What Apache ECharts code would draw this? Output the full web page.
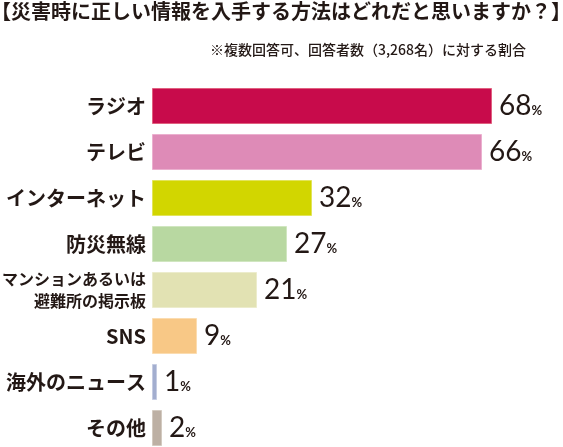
<!DOCTYPE html>
<html><head><meta charset="utf-8">
<script src="https://cdn.jsdelivr.net/npm/echarts@6/dist/echarts.min.js"></script>
<style>html,body{margin:0;padding:0;background:#fff}#c{width:563px;height:447px}</style>
</head><body><div id="c"></div>
<script>
const titleText = '【災害時に正しい情報を入手する方法はどれだと思いますか？】';
const noteText = '※複数回答可、回答者数（3,268名）に対する割合';
const categories = ['ラジオ','テレビ','インターネット','防災無線','マンションあるいは\n避難所の掲示板','SNS','海外のニュース','その他'];
const values = [68,66,32,27,21,9,1,2];
const colors = ['#C80B4B','#DE8BB7','#D2D600','#B8D8A1','#E2E2B3','#F8C886','#A3AECF','#BDB0A4'];
const borders = ['#E0607F','#EBB0CF','#E2E45A','#D0E6C0','#ECECCC','#FBDCB0','#C5CCE2','#D3CAC0'];
const FONT = '"Noto Sans CJK JP", "Noto Sans", sans-serif';
const chart = echarts.init(document.getElementById('c'), null, {renderer:'canvas'});
chart.setOption({
  animation:false,
  backgroundColor:'#fff',
  title:[
    {text:titleText,left:-9,top:1,padding:0,textStyle:{fontFamily:FONT,fontSize:20,fontWeight:'bold',color:'#231815'}},
    {text:noteText,right:32,top:38,textStyle:{fontFamily:FONT,fontSize:14,fontWeight:500,color:'#231815'}}
  ],
  grid:{left:152,top:83,width:400,height:368,containLabel:false,outerBoundsMode:'none'},
  xAxis:{type:'value',min:0,max:80,show:false},
  yAxis:{type:'category',inverse:true,data:categories,
    axisLine:{show:false},axisTick:{show:false},
    axisLabel:{margin:6,fontFamily:FONT,fontWeight:'bold',color:'#231815',fontSize:20,
      formatter:function(v){return v.indexOf('\n')>=0?'{s|'+v.replace('\n','}\n{s|')+'}':v;},
      rich:{s:{fontFamily:FONT,fontWeight:'bold',fontSize:16,lineHeight:22,color:'#231815'}}}},
  series:[{type:'bar',barWidth:36,
    data:values.map((v,i)=>({value:v,itemStyle:{color:colors[i],borderColor:borders[i],borderWidth:1}})),
    label:{show:true,position:'right',distance:7,
      formatter:function(p){return '{v|'+p.value+'}{p|%}';},
      rich:{v:{fontFamily:'Lato, sans-serif',fontSize:28,fontWeight:'normal',color:'#231815'},
            p:{fontFamily:'Lato, sans-serif',fontSize:13,fontWeight:'bold',color:'#231815',padding:[9,0,0,0]}}}
  }]
});
</script></body></html>
